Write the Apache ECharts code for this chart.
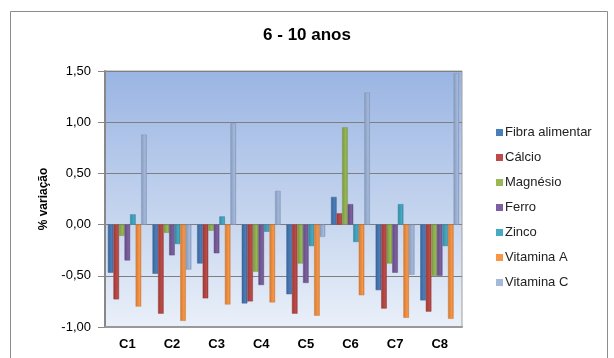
<!DOCTYPE html>
<html><head><meta charset="utf-8">
<script src="https://cdn.jsdelivr.net/npm/echarts@6/dist/echarts.min.js"></script>
<style>html,body{margin:0;padding:0;background:#fff}#c{width:614px;height:358px}</style>
</head><body><div id="c"></div>
<script>
const categories = ['C1','C2','C3','C4','C5','C6','C7','C8'];
const seriesNames = ['Fibra alimentar','Cálcio','Magnésio','Ferro','Zinco','Vitamina A','Vitamina C'];
const fibra     = [-0.47,-0.48,-0.38,-0.77,-0.68, 0.27,-0.64,-0.74];
const calcio    = [-0.73,-0.87,-0.72,-0.75,-0.87, 0.11,-0.82,-0.85];
const magnesio  = [-0.11,-0.08,-0.06,-0.46,-0.38, 0.95,-0.38,-0.50];
const ferro     = [-0.35,-0.30,-0.28,-0.59,-0.57, 0.20,-0.47,-0.50];
const zinco     = [ 0.10,-0.19, 0.08,-0.07,-0.21,-0.17, 0.20,-0.21];
const vitaminaA = [-0.80,-0.94,-0.78,-0.76,-0.89,-0.69,-0.91,-0.92];
const vitaminaC = [ 0.88,-0.44, 0.99, 0.33,-0.12, 1.29,-0.49, 1.48];
const yTicks = [-1, -0.5, 0, 0.5, 1, 1.5];
const allData = [fibra, calcio, magnesio, ferro, zinco, vitaminaA, vitaminaC];
const colors = ['#4a7ebb','#be4b48','#98b954','#7d60a0','#46aac5','#f79646','#a5b9da'];
const darker = ['#3a6499','#993b39','#7a9643','#634c80','#3689a0','#d07a36','#8599bb'];

const chart = echarts.init(document.getElementById('c'));
chart.setOption({
  animation: false,
  textStyle: {fontFamily: 'Liberation Sans, Arial, sans-serif'},
  title: {text: '6 - 10 anos', left: 'center', top: 22,
    textStyle: {fontSize: 17, fontWeight: 'bold', color: '#000', fontFamily: 'Liberation Sans, Arial, sans-serif'}},
  graphic: [{type: 'rect', shape: {x: 10.5, y: 11.5, width: 597, height: 360},
    style: {fill: 'none', stroke: '#8c8c8c', lineWidth: 1}, z: -10}],
  legend: {orient: 'vertical', left: 491, top: 121, itemWidth: 7, itemHeight: 7, itemGap: 12,
    icon: 'rect',
    data: seriesNames.map((n, i) => ({name: n, itemStyle: {color: colors[i], borderWidth: 0}})),
    textStyle: {fontSize: 13, color: '#222', padding: [0,0,0,-3]}},
  grid: {left: 105, right: 152, top: 71, bottom: 31, show: true,
    backgroundColor: {type: 'linear', x: 0, y: 0, x2: 0, y2: 1,
      colorStops: [{offset: 0, color: '#9ab5e3'}, {offset: 0.55, color: '#c4d4ee'}, {offset: 1, color: '#eaf0f9'}]},
    borderColor: '#a0a0a0', borderWidth: 1},
  xAxis: {type: 'category', data: categories,
    axisLine: {onZero: false, lineStyle: {color: '#999', width: 2}},
    axisTick: {show: false},
    axisLabel: {fontSize: 13, fontWeight: 'bold', color: '#000', margin: 11}},
  yAxis: {type: 'value', min: -1, max: 1.5, interval: 0.5,
    name: '% variação', nameLocation: 'middle', nameGap: 55, nameRotate: 90,
    nameTextStyle: {fontSize: 12, fontWeight: 'bold', color: '#000'},
    axisLine: {show: true, lineStyle: {color: '#888', width: 2}},
    axisTick: {show: true, length: 7, lineStyle: {color: '#888'}},
    axisLabel: {fontSize: 13, color: '#000', margin: 14,
      formatter: v => v.toFixed(2).replace('.', ',')},
    splitLine: {lineStyle: {color: '#7f7f7f', width: 1}}},
  series: seriesNames.map((n, i) => ({
    name: n, type: 'bar', data: allData[i],
    barGap: '0%', barCategoryGap: '13%',
    itemStyle: {color: {type: 'linear', x: 0, y: 0, x2: 1, y2: 0,
      colorStops: [{offset: 0, color: darker[i]}, {offset: 0.7, color: colors[i]}, {offset: 1, color: darker[i]}]},
      borderColor: darker[i], borderWidth: 0.5}
  }))
});
</script></body></html>
